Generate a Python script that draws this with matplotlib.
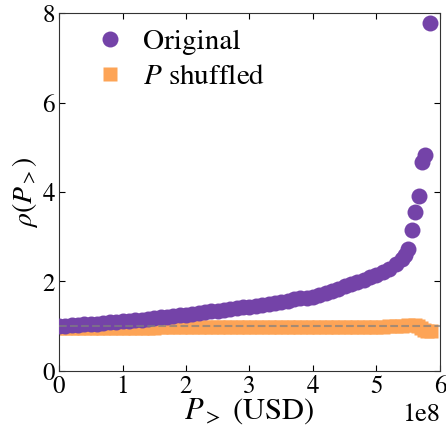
import numpy as np
import matplotlib
matplotlib.use('Agg')
import matplotlib.pyplot as plt

# x positions in units of 1e8 USD
orig_x = [0.0, 0.1, 0.2, 0.3, 0.4, 0.5, 0.6, 0.7, 0.8, 0.9,
          1.0, 1.1, 1.2, 1.3, 1.4, 1.5, 1.6, 1.7, 1.8, 1.9,
          2.0, 2.1, 2.2, 2.3, 2.4, 2.5, 2.6, 2.7, 2.8, 2.9,
          3.0, 3.1, 3.2, 3.3, 3.4, 3.5, 3.6, 3.7, 3.8, 3.9,
          4.0, 4.1, 4.2, 4.3, 4.4, 4.5, 4.6, 4.7, 4.8, 4.9,
          5.0, 5.1, 5.2, 5.3, 5.4, 5.45, 5.5,
          5.56, 5.61, 5.67, 5.72, 5.76, 5.84]
orig_y = [1.00, 1.01, 1.02, 1.03, 1.04, 1.05, 1.06, 1.07, 1.09, 1.10,
          1.11, 1.12, 1.14, 1.15, 1.17, 1.18, 1.20, 1.21, 1.23, 1.24,
          1.26, 1.28, 1.29, 1.31, 1.33, 1.34, 1.36, 1.38, 1.40, 1.42,
          1.43, 1.46, 1.48, 1.50, 1.53, 1.55, 1.57, 1.60, 1.62, 1.64,
          1.66, 1.70, 1.74, 1.79, 1.84, 1.89, 1.94, 1.99, 2.04, 2.09,
          2.14, 2.21, 2.29, 2.38, 2.50, 2.60, 2.73,
          3.15, 3.55, 3.91, 4.67, 4.83, 7.78]

shuf_x = [0.0, 0.1, 0.2, 0.3, 0.4, 0.5, 0.6, 0.7, 0.8, 0.9,
          1.0, 1.1, 1.2, 1.3, 1.4, 1.5, 1.6, 1.7, 1.8, 1.9,
          2.0, 2.1, 2.2, 2.3, 2.4, 2.5, 2.6, 2.7, 2.8, 2.9,
          3.0, 3.1, 3.2, 3.3, 3.4, 3.5, 3.6, 3.7, 3.8, 3.9,
          4.0, 4.1, 4.2, 4.3, 4.4, 4.5, 4.6, 4.7, 4.8, 4.9,
          5.0, 5.1, 5.2, 5.3, 5.4, 5.5, 5.6, 5.65, 5.7, 5.75, 5.8, 5.86]
shuf_y = [0.97, 0.97, 0.97, 0.97, 0.97, 0.97, 0.97, 0.97, 0.97, 0.97,
          0.97, 0.97, 0.97, 0.97, 0.97, 0.97, 0.98, 0.98, 0.98, 0.98,
          0.98, 0.98, 0.98, 0.98, 0.98, 0.98, 0.98, 0.98, 0.98, 0.98,
          0.98, 0.98, 0.98, 0.98, 0.98, 0.98, 0.98, 0.98, 0.98, 0.98,
          0.98, 0.98, 0.98, 0.98, 0.98, 0.98, 0.98, 0.98, 0.98, 0.98,
          0.99, 0.99, 1.00, 1.00, 1.01, 1.02, 1.02, 1.00, 0.96, 0.92, 0.90, 0.89]

xticks = [0, 1, 2, 3, 4, 5, 6]
yticks = [0, 2, 4, 6, 8]

purple = '#7443a8'
orange = '#fda456'

plt.rcParams['font.family'] = 'STIXGeneral'
plt.rcParams['mathtext.fontset'] = 'stix'

fig = plt.figure(figsize=(4.46, 4.34), dpi=100)
ax = fig.add_axes([0.1323, 0.1452, 0.8542, 0.8248])

ax.plot(np.array(shuf_x) * 1e8, shuf_y, 's', color=orange, ms=10, mec='none',
        label=r'$P$ shuffled', zorder=2)
ax.plot(np.array(orig_x) * 1e8, orig_y, 'o', color=purple, ms=11.5, mec='none',
        label='Original', zorder=3)
ax.axhline(1.0, color='gray', ls='--', lw=1.5, alpha=0.7, zorder=4)

ax.set_xlim(0, 6e8)
ax.set_ylim(0, 8)
ax.set_xticks([t * 1e8 for t in xticks])
ax.set_yticks(yticks)
ax.tick_params(direction='in', top=True, right=True, labelsize=18, length=4, pad=3)
ax.xaxis.get_offset_text().set_fontsize(19)
for s in ax.spines.values():
    s.set_color('#333333')

ax.set_xlabel(r'$P_>$ (USD)', fontsize=22, labelpad=-2)
ax.set_ylabel(r'$\rho(P_>)$', fontsize=20, labelpad=2)

h, l = ax.get_legend_handles_labels()
ax.legend(h[::-1], l[::-1], loc='upper left', frameon=False, fontsize=21,
          handlelength=1.6, handletextpad=0.35, borderaxespad=0.3,
          labelspacing=0.3, bbox_to_anchor=(0.018, 1.014))

fig.savefig('out.png', dpi=100)
